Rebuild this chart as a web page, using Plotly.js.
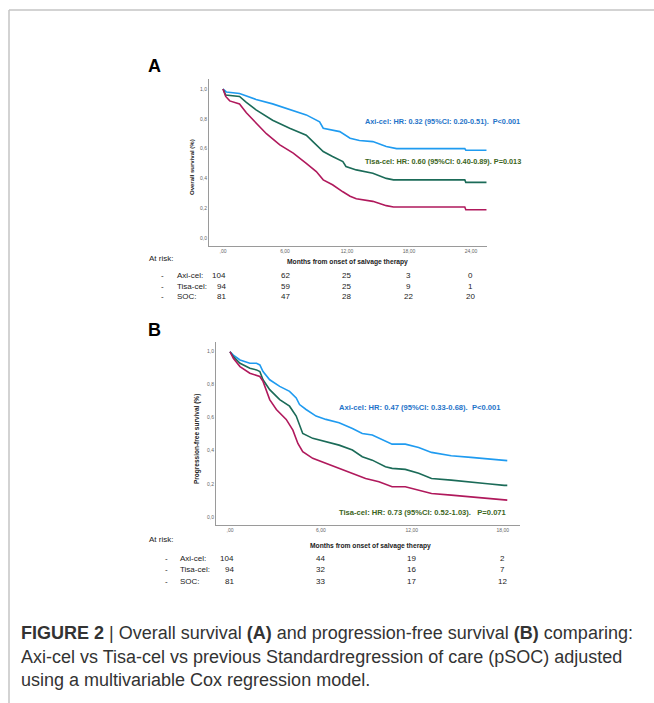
<!DOCTYPE html>
<html>
<head>
<meta charset="utf-8">
<script src="https://cdn.plot.ly/plotly-3.0.1.min.js"></script>
<style>html,body{margin:0;padding:0;background:#fff;}#chart{width:654px;height:703px;}</style>
</head>
<body>
<div id="chart"></div>
<script>
// ---------- Panel A: Overall survival ----------
const osAxiMonths  = [0, 0.32, 1.6, 3.2, 4.8, 6.45, 8.06, 9.35, 9.7, 11.3, 12.3, 13.2, 14.5, 15.8, 16.8, 23.4, 23.5, 25.5];
const osAxiSurv    = [1.0, 0.98, 0.97, 0.93, 0.90, 0.86, 0.826, 0.78, 0.737, 0.714, 0.67, 0.654, 0.647, 0.614, 0.60, 0.60, 0.589, 0.589];
const osTisaMonths = [0, 0.26, 1.6, 2.26, 3.2, 4.8, 6.45, 8.06, 8.7, 9.7, 10.6, 11.6, 11.9, 12.9, 14.5, 15.8, 16.5, 23.4, 23.5, 25.5];
const osTisaSurv   = [1.0, 0.96, 0.95, 0.91, 0.86, 0.79, 0.737, 0.69, 0.647, 0.58, 0.547, 0.513, 0.48, 0.457, 0.435, 0.40, 0.39, 0.39, 0.373, 0.373];
const osSocMonths  = [0, 0.26, 0.65, 1.6, 2.26, 3.2, 4.2, 5.5, 6.8, 8.06, 9.03, 9.7, 10.6, 11.6, 12.3, 12.9, 14.5, 15.8, 16.5, 23.4, 23.5, 25.5];
const osSocSurv    = [1.0, 0.95, 0.92, 0.90, 0.84, 0.77, 0.70, 0.625, 0.57, 0.50, 0.446, 0.39, 0.357, 0.31, 0.28, 0.263, 0.246, 0.217, 0.208, 0.208, 0.19, 0.19];

// ---------- Panel B: Progression-free survival ----------
const pfsAxiMonths  = [0, 0.22, 0.66, 1.31, 1.75, 1.97, 2.18, 2.62, 3.28, 3.93, 4.37, 4.59, 5.02, 5.68, 6.33, 7.2, 8.08, 8.73, 9.39, 9.83, 10.7, 11.57, 12.45, 13.3, 14.6, 15.9, 17.0, 18.1, 18.3];
const pfsAxiSurv    = [1.0, 0.98, 0.95, 0.93, 0.93, 0.92, 0.88, 0.83, 0.79, 0.76, 0.72, 0.68, 0.65, 0.61, 0.59, 0.57, 0.535, 0.505, 0.495, 0.475, 0.44, 0.44, 0.42, 0.39, 0.37, 0.36, 0.35, 0.34, 0.34];
const pfsTisaMonths = [0, 0.22, 0.66, 1.31, 1.75, 1.97, 2.18, 2.62, 3.28, 3.93, 4.37, 4.59, 4.80, 5.46, 6.33, 7.2, 8.08, 8.73, 9.39, 10.26, 10.7, 11.57, 12.45, 13.3, 14.6, 15.9, 17.0, 18.1, 18.3];
const pfsTisaSurv   = [1.0, 0.97, 0.93, 0.90, 0.89, 0.88, 0.83, 0.77, 0.71, 0.67, 0.61, 0.555, 0.505, 0.475, 0.455, 0.434, 0.404, 0.364, 0.343, 0.303, 0.293, 0.287, 0.263, 0.232, 0.222, 0.212, 0.20, 0.19, 0.19];
const pfsSocMonths  = [0, 0.22, 0.66, 1.31, 1.97, 2.18, 2.62, 3.06, 3.71, 4.15, 4.48, 4.80, 5.46, 6.33, 7.2, 8.08, 8.95, 9.83, 10.7, 11.57, 12.45, 13.3, 14.6, 15.9, 17.0, 18.1, 18.3];
const pfsSocSurv    = [1.0, 0.96, 0.91, 0.87, 0.85, 0.82, 0.71, 0.65, 0.59, 0.525, 0.444, 0.394, 0.354, 0.323, 0.293, 0.263, 0.232, 0.212, 0.182, 0.182, 0.162, 0.141, 0.131, 0.121, 0.111, 0.101, 0.101];

// ---------- Ticks ----------
const xTickValsA = [0, 6, 12, 18, 24];
const xTickTextA = [",00", "6,00", "12,00", "18,00", "24,00"];
const xTickValsB = [0, 6, 12, 18];
const xTickTextB = [",00", "6,00", "12,00", "18,00"];
const yTickVals  = [0, 0.2, 0.4, 0.6, 0.8, 1.0];
const yTickText  = ["0,0", "0,2", "0,4", "0,6", "0,8", "1,0"];

// ---------- Numbers at risk ----------
const riskLabels = ["Axi-cel:", "Tisa-cel:", "SOC:"];
const riskA = [[104, 62, 25, 3, 0], [94, 59, 25, 9, 1], [81, 47, 28, 22, 20]];
const riskB = [[104, 44, 19, 2], [94, 32, 16, 7], [81, 33, 17, 12]];

// ---------- Texts ----------
const hrA = ["Axi-cel: HR: 0.32 (95%CI: 0.20-0.51).  P<0.001", "Tisa-cel: HR: 0.60 (95%CI: 0.40-0.89). P=0.013"];
const hrB = ["Axi-cel: HR: 0.47 (95%CI: 0.33-0.68).  P<0.001", "Tisa-cel: HR: 0.73 (95%CI: 0.52-1.03).   P=0.071"];
const captionLines = [
  "<b>FIGURE 2</b> | Overall survival <b>(A)</b> and progression-free survival <b>(B)</b> comparing:",
  "Axi-cel vs Tisa-cel vs previous Standardregression of care (pSOC) adjusted",
  "using a multivariable Cox regression model."
];

const W = 654, H = 703;
const px = v => v / W;
const py = v => 1 - v / H;

const cAxi = "#1f9bf0", cTisa = "#1b6b58", cSoc = "#b0195c";
const tAxi = "#1f74c9", tTisa = "#3c6522";

function km(x, y, color, xa, ya) {
  return {x: x, y: y, type: "scatter", mode: "lines", line: {shape: "linear", color: color, width: 1.6},
          xaxis: xa, yaxis: ya, hoverinfo: "skip", showlegend: false};
}

const data = [
  km(osAxiMonths, osAxiSurv, cAxi, "x", "y"),
  km(osTisaMonths, osTisaSurv, cTisa, "x", "y"),
  km(osSocMonths, osSocSurv, cSoc, "x", "y"),
  km(pfsAxiMonths, pfsAxiSurv, cAxi, "x2", "y2"),
  km(pfsTisaMonths, pfsTisaSurv, cTisa, "x2", "y2"),
  km(pfsSocMonths, pfsSocSurv, cSoc, "x2", "y2")
];

const tickFont = {family: "Liberation Sans, Arial, sans-serif", size: 5, color: "#666"};
function axis(domain, range, tv, tt, anchor) {
  return {domain: domain, range: range, tickvals: tv, ticktext: tt, showgrid: false, zeroline: false,
          showline: true, linecolor: "#9a9a9a", linewidth: 1, ticks: "", tickfont: tickFont, anchor: anchor,
          fixedrange: true};
}

const boldFam = "Liberation Sans, Arial, sans-serif";
const small = "Liberation Sans, Arial, sans-serif";
const ann = [];
function txt(text, x, y, opts) {
  ann.push(Object.assign({text: text, x: x, y: y, xref: "paper", yref: "paper", showarrow: false,
    xanchor: "left", yanchor: "middle", font: {family: small, size: 7, color: "#222"}}, opts || {}));
}

// Panel letters
txt("<b>A</b>", px(146), py(66), {font: {family: "Liberation Sans, Arial, sans-serif", size: 18, color: "#000"}});
txt("<b>B</b>", px(146), py(330), {font: {family: "Liberation Sans, Arial, sans-serif", size: 18, color: "#000"}});

// Axis titles
txt("<b>Overall survival (%)</b>", px(192), py(167), {xanchor: "center", textangle: -90, font: {family: small, size: 6, color: "#222"}});
txt("<b>Months from onset of salvage therapy</b>", px(347), py(262), {xanchor: "center", font: {family: small, size: 6.7, color: "#222"}});
txt("<b>Progression-free survival (%)</b>", px(197), py(439), {xanchor: "center", textangle: -90, font: {family: small, size: 6.5, color: "#222"}});
txt("<b>Months from onset of salvage therapy</b>", px(370), py(546), {xanchor: "center", font: {family: small, size: 6.7, color: "#222"}});

// HR annotations
txt("<b>" + hrA[0] + "</b>", px(363), py(122), {font: {family: boldFam, size: 7.3, color: tAxi}});
txt("<b>" + hrA[1] + "</b>", px(363), py(161), {font: {family: boldFam, size: 7.3, color: tTisa}});
txt("<b>" + hrB[0] + "</b>", px(337), py(407), {font: {family: boldFam, size: 7.6, color: tAxi}});
txt("<b>" + hrB[1] + "</b>", px(337), py(512), {font: {family: boldFam, size: 7.6, color: tTisa}});

// At risk tables
const riskFont = {family: small, size: 8, color: "#222"};
txt("At risk:", px(147), py(258), {font: riskFont});
txt("At risk:", px(147), py(539), {font: riskFont});
const rowsA = [275, 286, 297], rowsB = [558, 569, 581];
riskLabels.forEach((lab, i) => {
  txt("-", px(159), py(rowsA[i]), {font: riskFont});
  txt(lab, px(175), py(rowsA[i]), {font: riskFont});
  txt("-", px(163), py(rowsB[i]), {font: riskFont});
  txt(lab, px(178), py(rowsB[i]), {font: riskFont});
  riskA[i].forEach((n, j) => {
    ann.push({text: String(n), x: xTickValsA[j], xref: "x", y: py(rowsA[i]), yref: "paper", showarrow: false,
      xanchor: j === 0 ? "right" : "center", xshift: j === 0 ? 5 : 0, yanchor: "middle", font: riskFont});
  });
  riskB[i].forEach((n, j) => {
    ann.push({text: String(n), x: xTickValsB[j], xref: "x2", y: py(rowsB[i]), yref: "paper", showarrow: false,
      xanchor: j === 0 ? "right" : "center", xshift: j === 0 ? 6 : 0, yanchor: "middle", font: riskFont});
  });
});

// Caption
const capFont = {family: "Liberation Sans, Arial, sans-serif", size: 18, color: "#333"};
[633, 657, 680].forEach((yy, i) => txt(captionLines[i], px(19), py(yy), {font: capFont}));

const layout = {
  width: W, height: H, margin: {l: 0, r: 0, t: 0, b: 0},
  paper_bgcolor: "#fff", plot_bgcolor: "#fff", showlegend: false,
  xaxis:  axis([px(209), px(487)], [-1.355, 25.55], xTickValsA, xTickTextA, "y"),
  yaxis:  axis([py(246), py(79)], [-0.0537, 1.067], yTickVals, yTickText, "x"),
  xaxis2: axis([px(216), px(520)], [-0.924, 19.14], xTickValsB, xTickTextB, "y2"),
  yaxis2: axis([py(525), py(342)], [-0.050, 1.059], yTickVals, yTickText, "x2"),
  annotations: ann,
  shapes: [
    {type: "line", xref: "paper", yref: "paper", x0: px(9), x1: 1, y0: py(10), y1: py(10), line: {color: "#c4c4c4", width: 1.5}},
    {type: "line", xref: "paper", yref: "paper", x0: px(9), x1: px(9), y0: py(10), y1: 0, line: {color: "#c4c4c4", width: 1.5}}
  ]
};

Plotly.newPlot("chart", data, layout, {staticPlot: true, displayModeBar: false});
</script>
</body>
</html>
